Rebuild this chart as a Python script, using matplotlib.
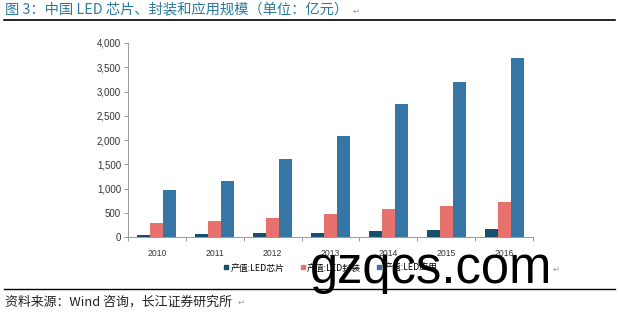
import matplotlib
matplotlib.use("Agg")
import matplotlib.pyplot as plt
import numpy as np
from matplotlib.lines import Line2D

plt.rcParams['font.family'] = ['Noto Sans CJK SC', 'DejaVu Sans']

years = ["2010", "2011", "2012", "2013", "2014", "2015", "2016"]
chip = [50, 65, 80, 90, 125, 140, 160]
package = [285, 320, 400, 470, 570, 640, 730]
application = [960, 1160, 1600, 2080, 2750, 3200, 3700]
series_names = ["产值:LED芯片", "产值:LED封装", "产值:LED应用"]
colors = ["#17506e", "#e6716d", "#3576a4"]

W, H = 619, 313
fig = plt.figure(figsize=(W/100, H/100), dpi=100)
ax = fig.add_axes([128/W, 1-237/H, (533-128)/W, (237-43)/H])

x = np.arange(len(years))
bw = 0.225
for i, (vals, c, n) in enumerate(zip([chip, package, application], colors, series_names)):
    ax.bar(x + (i-1)*bw, vals, width=bw, color=c, label=n)

ax.set_xlim(-0.5, len(years)-0.5)
ax.set_ylim(0, 4000)
ax.set_yticks(np.arange(0, 4001, 500))
ax.set_yticklabels([f"{v:,}" for v in range(0, 4001, 500)], fontsize=7, family=['Liberation Sans'],
                   color='#333333')
ax.set_xticks(x)
ax.set_xticklabels(years, fontsize=6.2, family=['Liberation Sans'], color='#333333')
ax.set_xticks(np.arange(-0.5, len(years), 1), minor=True)
ax.tick_params(axis='x', which='major', length=0, pad=9)
ax.tick_params(axis='x', which='minor', length=3, color='#888888', width=0.6)
ax.tick_params(axis='y', length=3, color='#888888', width=0.6, pad=2)
for s in ['top', 'right']:
    ax.spines[s].set_visible(False)
for s in ['left', 'bottom']:
    ax.spines[s].set_color('#999999')
    ax.spines[s].set_linewidth(0.7)

handles = [Line2D([], [], marker='s', linestyle='none', markersize=3.5, color=c) for c in colors]
fig.legend(handles, series_names, loc='center', bbox_to_anchor=(330/W, 1-268/H),
           ncol=3, frameon=False, fontsize=6.4, handletextpad=0.1, columnspacing=1.6,
           handlelength=0.8)

# title and lines
fig.text(5/W, 1-10/H, "图 3：中国 LED 芯片、封装和应用规模（单位：亿元）", fontsize=10.3,
         color="#2a7b9b", va='center', ha='left')
fig.text(353/W, 1-11/H, "↵", fontsize=6, color="#999999", va='center', ha='left', family=['DejaVu Sans'])
fig.add_artist(Line2D([4/W, 615/W], [1-20/H, 1-20/H], color='black', lw=1.2))
fig.add_artist(Line2D([4/W, 615/W], [1-289/H, 1-289/H], color='black', lw=1.0))
fig.text(5/W, 1-302/H, "资料来源：Wind 咨询，长江证券研究所", fontsize=9.3, color="#222222",
         va='center', ha='left')
fig.text(238/W, 1-302/H, "↵", fontsize=6, color="#999999", va='center', ha='left', family=['DejaVu Sans'])

# watermark
fig.text(310/W, 1-283/H, "gzqcs.com", fontsize=36.5, color='black', va='baseline', ha='left',
         family=['Liberation Sans'])
fig.text(553/W, 1-269/H, "↵", fontsize=6, color="#999999", va='center', ha='left', family=['DejaVu Sans'])

fig.savefig("out.png", dpi=100)
